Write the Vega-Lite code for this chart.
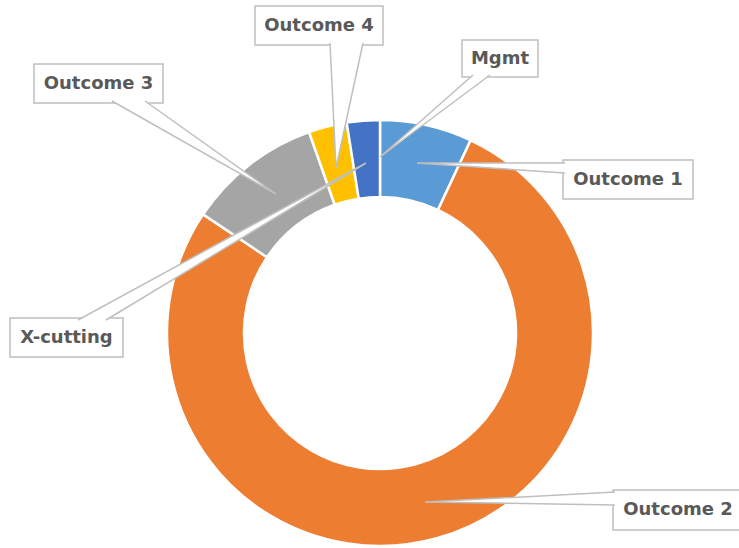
{
  "$schema": "https://vega.github.io/schema/vega-lite/v6.json",
  "width": 718,
  "height": 430,
  "autosize": {"type": "none"},
  "padding": {"left": 21, "top": 118, "right": 0, "bottom": 0},
  "background": "white",
  "config": {"view": {"stroke": null}},
  "datasets": {
    "slices": [
      {"category": "Mgmt", "share": 0, "k": 0},
      {"category": "Outcome 1", "share": 7.0, "k": 1},
      {"category": "Outcome 2", "share": 77.4, "k": 2},
      {"category": "Outcome 3", "share": 10.2, "k": 3},
      {"category": "Outcome 4", "share": 2.9, "k": 4},
      {"category": "X-cutting", "share": 2.5, "k": 5}
    ],
    "boxes": [
      {"label": "Outcome 4", "x1": -125, "x2": 3, "y1": 327, "y2": 288, "cx": -61, "cy": 307.5},
      {"label": "Mgmt", "x1": 82, "x2": 158, "y1": 293, "y2": 256, "cx": 120, "cy": 274.5},
      {"label": "Outcome 3", "x1": -346, "x2": -217, "y1": 269, "y2": 230, "cx": -281.5, "cy": 249.5},
      {"label": "Outcome 1", "x1": 183, "x2": 313, "y1": 173, "y2": 134, "cx": 248, "cy": 153.5},
      {"label": "X-cutting", "x1": -370, "x2": -257, "y1": 15, "y2": -24, "cx": -313.5, "cy": -4.5},
      {"label": "Outcome 2", "x1": 233, "x2": 363, "y1": -157, "y2": -197, "cx": 298, "cy": -177}
    ],
    "callouts": [
      {"label": "Outcome 4", "p": 0, "x": -50, "y": 290},
      {"label": "Outcome 4", "p": 1, "x": -44, "y": 165},
      {"label": "Outcome 4", "p": 2, "x": -17, "y": 290},
      {"label": "Mgmt", "p": 0, "x": 93, "y": 258},
      {"label": "Mgmt", "p": 1, "x": 0, "y": 176},
      {"label": "Mgmt", "p": 2, "x": 110, "y": 258},
      {"label": "Outcome 3", "p": 0, "x": -268, "y": 232},
      {"label": "Outcome 3", "p": 1, "x": -104, "y": 139},
      {"label": "Outcome 3", "p": 2, "x": -235, "y": 232},
      {"label": "Outcome 1", "p": 0, "x": 185, "y": 170},
      {"label": "Outcome 1", "p": 1, "x": 37, "y": 170},
      {"label": "Outcome 1", "p": 2, "x": 185, "y": 160},
      {"label": "X-cutting", "p": 0, "x": -302, "y": 13},
      {"label": "X-cutting", "p": 1, "x": -14, "y": 170},
      {"label": "X-cutting", "p": 2, "x": -274, "y": 13},
      {"label": "Outcome 2", "p": 0, "x": 235, "y": -159},
      {"label": "Outcome 2", "p": 1, "x": 45, "y": -169},
      {"label": "Outcome 2", "p": 2, "x": 235, "y": -172}
    ]
  },
  "layer": [
    {
      "data": {"name": "slices"},
      "mark": {"type": "arc", "radius": 213, "innerRadius": 136, "stroke": "white", "strokeWidth": 2.5},
      "encoding": {
        "theta": {"field": "share", "type": "quantitative", "stack": true},
        "order": {"field": "k", "type": "quantitative"},
        "color": {
          "field": "category",
          "type": "nominal",
          "scale": {
            "domain": ["Mgmt", "Outcome 1", "Outcome 2", "Outcome 3", "Outcome 4", "X-cutting"],
            "range": ["#5B9BD5", "#5B9BD5", "#ED7D31", "#A5A5A5", "#FFC000", "#4472C4"]
          },
          "legend": null
        }
      }
    },
    {
      "data": {"name": "boxes"},
      "mark": {"type": "rect", "fill": "white", "stroke": "#BFBFBF", "strokeWidth": 1.5},
      "encoding": {
        "x": {"field": "x1", "type": "quantitative", "scale": {"domain": [-359, 359], "nice": false, "zero": false}, "axis": null},
        "x2": {"field": "x2"},
        "y": {"field": "y1", "type": "quantitative", "scale": {"domain": [-215, 215], "nice": false, "zero": false}, "axis": null},
        "y2": {"field": "y2"}
      }
    },
    {
      "data": {"name": "callouts"},
      "mark": {"type": "line", "fill": "white", "stroke": "#BFBFBF", "strokeWidth": 1.5},
      "encoding": {
        "x": {"field": "x", "type": "quantitative", "scale": {"domain": [-359, 359], "nice": false, "zero": false}, "axis": null},
        "y": {"field": "y", "type": "quantitative", "scale": {"domain": [-215, 215], "nice": false, "zero": false}, "axis": null},
        "detail": {"field": "label", "type": "nominal"},
        "order": {"field": "p", "type": "quantitative"}
      }
    },
    {
      "data": {"name": "boxes"},
      "mark": {"type": "text", "font": "DejaVu Sans", "fontWeight": "bold", "fontSize": 18, "fill": "#595959", "align": "center", "baseline": "middle"},
      "encoding": {
        "x": {"field": "cx", "type": "quantitative", "scale": {"domain": [-359, 359], "nice": false, "zero": false}, "axis": null},
        "y": {"field": "cy", "type": "quantitative", "scale": {"domain": [-215, 215], "nice": false, "zero": false}, "axis": null},
        "text": {"field": "label", "type": "nominal"}
      }
    }
  ]
}
